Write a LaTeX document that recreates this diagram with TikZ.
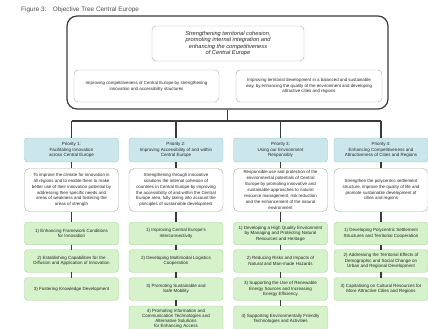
\documentclass[tikz,border=0pt]{standalone}
\usepackage{fontspec}
\setmainfont{Liberation Sans}
\definecolor{priofill}{HTML}{CBE7EC}
\definecolor{priodraw}{HTML}{96C3CB}
\definecolor{measfill}{HTML}{D5F2CB}
\definecolor{measdraw}{HTML}{A2D193}
\definecolor{linkgray}{HTML}{3A3A3A}
\begin{document}
\begin{tikzpicture}[x=1pt,y=-1pt,
    every node/.style={align=center,inner sep=1pt,text=black!85},
    frame/.style={draw=linkgray,line width=1.2pt,rounded corners=10pt,minimum width=321pt,minimum height=93pt},
    goal/.style={draw=black!35,rounded corners=4pt,font=\fontsize{5.7}{6.5}\selectfont\itshape},
    aim/.style={draw=black!35,rounded corners=4pt,minimum height=32pt,font=\fontsize{4.4}{5.8}\selectfont},
    prio/.style={draw=priodraw,fill=priofill,rounded corners=3pt,minimum width=94pt,minimum height=24pt,font=\fontsize{4.5}{5.8}\selectfont},
    desc/.style={draw=black!35,rounded corners=5pt,minimum width=94pt,minimum height=43pt,font=\fontsize{4.4}{5.9}\selectfont},
    measure/.style={draw=measdraw,fill=measfill,rounded corners=3pt,minimum width=94pt,minimum height=22.5pt,font=\fontsize{4.5}{5.6}\selectfont},
    link/.style={draw=linkgray,line width=1.1pt}]
\clip (0,0) rectangle (428,329);
\node[anchor=west,font=\fontsize{6.4}{7}\selectfont,text=black!70] (title) at (20,9.5) {Figure 3:\quad Objective Tree Central Europe};

% objectives
\node[frame] (outer) at (227.5,62.5) {};
\node[goal,minimum width=152pt,minimum height=35pt] (goal) at (228,43.5) {Strengthening territorial cohesion,\\promoting internal integration and\\enhancing the competitiveness\\of Central Europe};
\node[aim,minimum width=145pt] (aimL) at (146.5,86) {Improving competitiveness of Central Europe by strengthening\\innovation and accessibility structures};
\node[aim,minimum width=146pt] (aimR) at (309,86) {Improving territorial development in a balanced and sustainable\\way, by enhancing the quality of the environment and developing\\attractive cities and regions};

% priorities
\node[prio] (p1) at (71.5,150) {Priority 1:\\Facilitating Innovation\\across Central Europe};
\node[prio] (p2) at (176,150) {Priority 2:\\Improving Accessibility of and within\\Central Europe};
\node[prio] (p3) at (280.5,150) {Priority 3:\\Using our Environment\\Responsibly};
\node[prio] (p4) at (381,150) {Priority 4:\\Enhancing Competitiveness and\\Attractiveness of Cities and Regions};

\node[desc] (d1) at (71.5,190) {To improve the climate for innovation in\\all regions and to enable them to make\\better use of their innovation potential by\\addressing their specific needs and\\areas of weakness and fostering the\\areas of strength};
\node[desc] (d2) at (176,190) {Strengthening through innovative\\solutions the internal cohesion of\\countries in Central Europe by improving\\the accessibility of and within the Central\\Europe area, fully taking into account the\\principles of sustainable development};
\node[desc] (d3) at (280.5,190) {Responsible use and protection of the\\environmental potentials of Central\\Europe by promoting innovative and\\sustainable approaches to natural\\resource management, risk reduction\\and the enhancement of the natural\\environment};
\node[desc] (d4) at (381,190) {Strengthen the polycentric settlement\\structure, improve the quality of life and\\promote sustainable development of\\cities and regions};

% areas of intervention
\node[measure] (m11) at (71.5,233.5) {1) Enhancing Framework Conditions\\for Innovation};
\node[measure] (m12) at (71.5,261) {2) Establishing Capabilities for the\\Diffusion and Application of Innovation};
\node[measure] (m13) at (71.5,289) {3) Fostering Knowledge Development};

\node[measure] (m21) at (176,233.5) {1) Improving Central Europe's\\Interconnectivity};
\node[measure] (m22) at (176,261) {2) Developing Multimodal Logistics\\Cooperation};
\node[measure] (m23) at (176,289) {3) Promoting Sustainable and\\Safe Mobility};
\node[measure,minimum height=26pt,font=\fontsize{4.5}{4.8}\selectfont] (m24) at (176,319) {4) Promoting Information and\\Communication Technologies and\\Alternative Solutions\\for Enhancing Access};

\node[measure] (m31) at (280.5,233.5) {1) Developing a High Quality Environment\\by Managing and Protecting Natural\\Resources and Heritage};
\node[measure] (m32) at (280.5,261) {2) Reducing Risks and Impacts of\\Natural and Man-made Hazards};
\node[measure] (m33) at (280.5,289) {3) Supporting the Use of Renewable\\Energy Sources and Increasing\\Energy Efficiency};
\node[measure,minimum height=26pt] (m34) at (280.5,319) {4) Supporting Environmentally Friendly\\Technologies and Activities};

\node[measure] (m41) at (381,233.5) {1) Developing Polycentric Settlement\\Structures and Territorial Cooperation};
\node[measure] (m42) at (381,261) {2) Addressing the Territorial Effects of\\Demographic and Social Change on\\Urban and Regional Development};
\node[measure] (m43) at (381,289) {3) Capitalising on Cultural Resources for\\More Attractive Cities and Regions};

% connectors
\coordinate (stem) at (227.5,121);
\foreach \i/\x in {1/71.5,2/176,3/280.5,4/381} \coordinate (bus\i) at (\x,121);
\draw[link] (outer.south) -- (stem);
\draw[link] (bus1) -- (bus4);
\foreach \i in {1,...,4} \draw[link] (bus\i) -- (p\i) (p\i) -- (d\i) (d\i) -- (m\i1);
\foreach \a/\b in {m11/m12,m12/m13,m21/m22,m22/m23,m23/m24,m31/m32,m32/m33,m33/m34,m41/m42,m42/m43}
  \draw[link] (\a) -- (\b);
\end{tikzpicture}
\end{document}
